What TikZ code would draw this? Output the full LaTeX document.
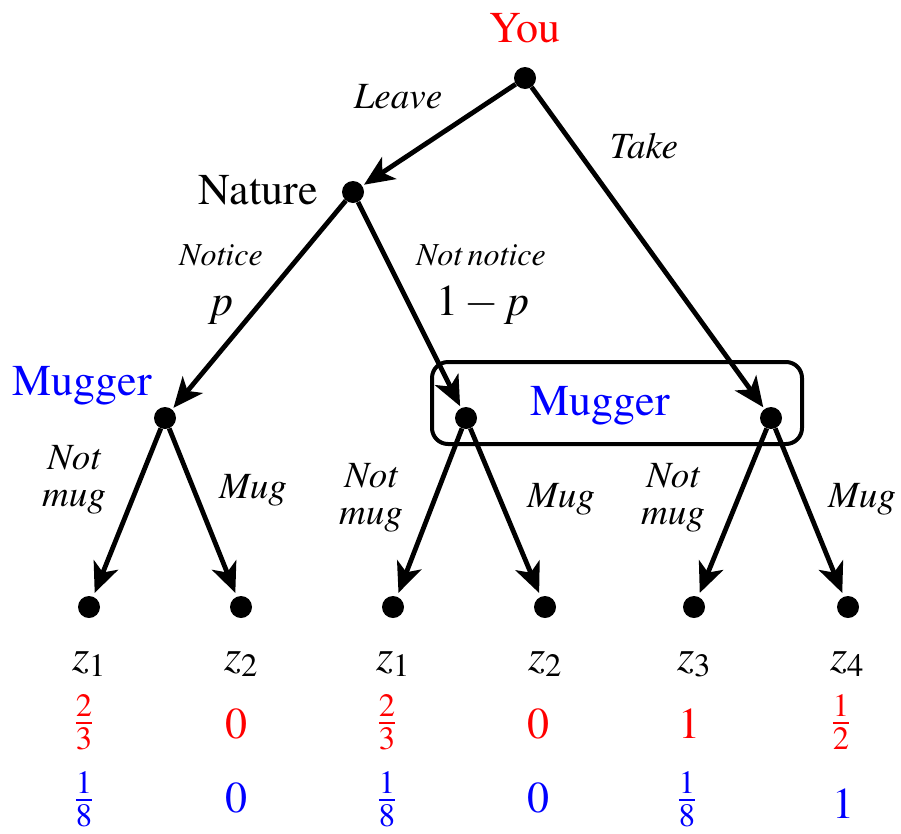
\documentclass[tikz,border=0pt]{standalone}
\usepackage[T1]{fontenc}
\usepackage{mathptmx}
\usetikzlibrary{arrows.meta}
\begin{document}
\begin{tikzpicture}[x=1pt,y=-1pt,
  dot/.style={circle,fill=black,inner sep=0pt,minimum size=22pt},
  edge/.style={line width=4.8pt,-{Stealth[length=30pt,width=26pt,inset=8pt]},shorten >=2pt},
  big/.style={font=\fontsize{44}{50}\selectfont,inner sep=0pt},
  act/.style={font=\fontsize{37}{37}\selectfont\itshape,inner sep=0pt,align=center},
  nat/.style={font=\fontsize{32}{32}\selectfont\itshape,inner sep=0pt},
  pay/.style={font=\fontsize{44}{50}\selectfont,inner sep=0pt,anchor=base}]
\useasboundingbox (0,0) rectangle (901,833);
% information set box
\node[draw,line width=4pt,rounded corners=16pt,minimum width=370pt,minimum height=82pt,inner sep=0pt] (infoset) at (617,403) {};
% decision nodes
\node[dot] (you) at (525,78) {};
\node[dot] (nature) at (353,192) {};
\node[dot] (m1) at (165,418) {};
\node[dot] (m2) at (466,418) {};
\node[dot] (m3) at (771,418) {};
% leaves
\node[dot] (l1) at (89,607) {};
\node[dot] (l2) at (241,607) {};
\node[dot] (l3) at (393,607) {};
\node[dot] (l4) at (545,607) {};
\node[dot] (l5) at (694,607) {};
\node[dot] (l6) at (848,607) {};
% edges
\draw[edge] (you) -- (nature);
\draw[edge] (you) -- (m3);
\draw[edge] (nature) -- (m1);
\draw[edge] (nature) -- (m2);
\draw[edge,shorten >=4pt] (m1) -- (l1);
\draw[edge,shorten >=4pt] (m1) -- (l2);
\draw[edge,shorten >=4pt] (m2) -- (l3);
\draw[edge,shorten >=4pt] (m2) -- (l4);
\draw[edge,shorten >=4pt] (m3) -- (l5);
\draw[edge,shorten >=4pt] (m3) -- (l6);
% player labels
\node[big,red,anchor=base] (tyou) at (525,42) {You};
\node[big,anchor=base] (tnature) at (258,204) {Nature};
\node[big,blue,anchor=base] (tm1) at (82,395) {Mugger};
\node[big,blue,anchor=base] (tm2) at (600,415) {Mugger};
% action labels
\node[act,anchor=base] (aleave) at (398,108) {Leave};
\node[act,anchor=base] (atake) at (644,158) {Take};
\node[nat,anchor=base] (anotice) at (221,265) {Notice};
\node[big,anchor=base] (ap) at (221,315) {$p$};
\node[nat,anchor=base] (anot) at (481,265) {Not\,notice};
\node[big,anchor=base] (a1p) at (483,315) {$1-p$};
\node[act] (nm1) at (74,480) {Not\\mug};
\node[act,anchor=base] (mug1) at (253,498) {Mug};
\node[act] (nm2) at (371,498) {Not\\mug};
\node[act,anchor=base] (mug2) at (561,507) {Mug};
\node[act] (nm3) at (673,498) {Not\\mug};
\node[act,anchor=base] (mug3) at (862,507) {Mug};
% outcomes
\node[pay] (z1a) at (89,670) {$z_1$};
\node[pay] (z2a) at (241,670) {$z_2$};
\node[pay] (z1b) at (393,670) {$z_1$};
\node[pay] (z2b) at (545,670) {$z_2$};
\node[pay] (z3) at (694,670) {$z_3$};
\node[pay] (z4) at (847,670) {$z_4$};
% payoffs of You
\node[pay,red] (r1) at (84,734) {$\frac{2}{3}$};
\node[pay,red] (r2) at (236,738) {0};
\node[pay,red] (r3) at (387,734) {$\frac{2}{3}$};
\node[pay,red] (r4) at (538,738) {0};
\node[pay,red] (r5) at (689,738) {1};
\node[pay,red] (r6) at (841,734) {$\frac{1}{2}$};
% payoffs of Mugger
\node[pay,blue] (b1) at (84,811) {$\frac{1}{8}$};
\node[pay,blue] (b2) at (236,812) {0};
\node[pay,blue] (b3) at (387,811) {$\frac{1}{8}$};
\node[pay,blue] (b4) at (538,812) {0};
\node[pay,blue] (b5) at (687,811) {$\frac{1}{8}$};
\node[pay,blue] (b6) at (843,818) {1};
\end{tikzpicture}
\end{document}
